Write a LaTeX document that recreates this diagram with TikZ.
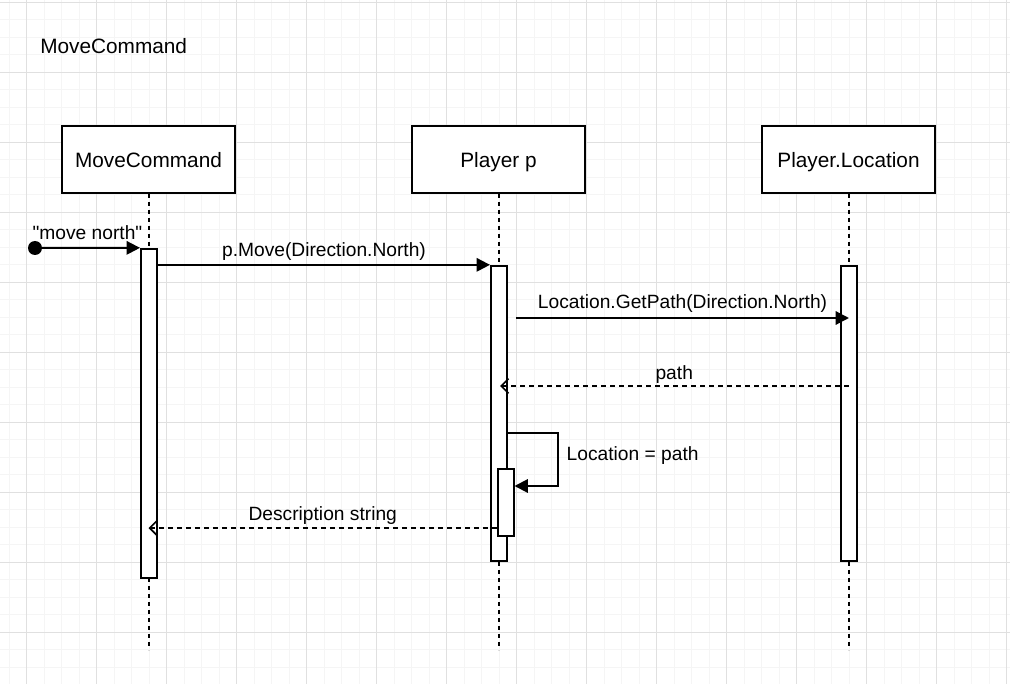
\documentclass[tikz,border=0pt]{standalone}
\usepackage{fontspec}
\setmainfont{Liberation Sans}
\usetikzlibrary{positioning, calc, arrows.meta}

\begin{document}
\begin{tikzpicture}
    [x=0.75pt, y=-0.75pt,
    every node/.style={font=\fontsize{14.4}{17}\selectfont},
    headnode/.style={rectangle, draw=black, line width=1.5pt, minimum width=129.75pt, minimum height=50.25pt, fill=white, text height=13pt, text depth=1pt, font=\fontsize{15.6}{18}\selectfont},
    actnode/.style={rectangle, draw=black, line width=1.5pt, minimum width=12pt, fill=white, inner sep=0pt},
    lifeline/.style={line width=1.5pt, dash pattern=on 3pt off 3pt},
    msg/.style={line width=1.5pt, -{Triangle[length=10pt, width=10pt]}},
    reply/.style={line width=1.2pt, dash pattern=on 3.75pt off 3pt, -{Straight Barb[length=5.5pt, width=11pt]}},
    minorline/.style={color=black!4, line width=0.75pt},
    majorline/.style={color=black!12, line width=0.75pt},
    node distance=131.25pt]

    \useasboundingbox (0,0) rectangle (1010,684);

    %Grid
    \foreach \k in {0,...,57}{
        \pgfmathsetmacro{\gx}{9.2+17.5*\k}
        \draw[minorline] (\gx,0) -- (\gx,684);
    }
    \foreach \k in {0,...,38}{
        \pgfmathsetmacro{\gy}{2.3+17.5*\k}
        \draw[minorline] (0,\gy) -- (1010,\gy);
    }
    \foreach \k in {0,...,14}{
        \pgfmathsetmacro{\gx}{26.7+70*\k}
        \draw[majorline] (\gx,0) -- (\gx,684);
    }
    \foreach \k in {0,...,9}{
        \pgfmathsetmacro{\gy}{2.3+70*\k}
        \draw[majorline] (0,\gy) -- (1010,\gy);
    }

    %Nodes
    \node[anchor=west, inner sep=0pt, font=\fontsize{15.6}{18}\selectfont](title) at (40,46){MoveCommand};

    \node[headnode](cmd) at (148.5,159.5){MoveCommand};
    \node[headnode](plr)[right=of cmd]{Player p};
    \node[headnode](loc)[right=of plr]{Player.Location};

    \coordinate (cmdEnd) at (148.5,650);
    \coordinate (plrEnd) at (498.5,650);
    \coordinate (locEnd) at (848.5,650);

    %Lifelines
    \draw[lifeline](cmd.south)--(cmdEnd);
    \draw[lifeline](plr.south)--(plrEnd);
    \draw[lifeline](loc.south)--(locEnd);

    %Activations
    \node[actnode, minimum height=247pt](cmdAct) at (149,413.5){};
    \node[actnode, minimum height=221.5pt](plrAct) at (499,413.5){};
    \node[actnode, minimum height=221.5pt](locAct) at (849,413.5){};
    \node[actnode, minimum height=50.5pt](plrSelf) at (505.5,502.5){};

    %Messages
    \coordinate (start) at (35,248);
    \fill (start) circle (7);
    \draw[msg](start)--(cmdAct.north west)
        node[midway, above=2pt]{\textquotedbl move north\textquotedbl};

    \draw[msg](cmdAct.east |- plrAct.north west)--(plrAct.north west)
        node[midway, above=-1pt]{p.Move(Direction.North)};

    \coordinate (getFrom) at (516,318);
    \draw[msg](getFrom)--(getFrom -| locAct)
        node[midway, above=0pt]{Location.GetPath(Direction.North)};

    \coordinate (pathFrom) at (848.5,386);
    \draw[reply](pathFrom)--(pathFrom -| 500,0)
        node[midway, above=-2pt]{path};

    \coordinate (selfFrom) at (508,433);
    \coordinate (selfTurn) at (558,433);
    \draw[msg](selfFrom)--(selfTurn)--(selfTurn |- 0,486)--(plrSelf.east |- 0,486);
    \node[anchor=west](selfLbl) at (562,456){Location = path};

    \coordinate (descFrom) at (497,528);
    \draw[reply](descFrom)--(descFrom -| 148.5,0)
        node[midway, above=-1pt]{Description string};
\end{tikzpicture}
\end{document}
